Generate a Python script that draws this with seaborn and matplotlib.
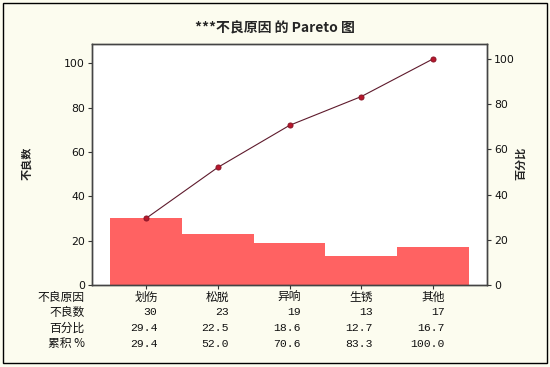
import matplotlib
matplotlib.use('Agg')
import matplotlib.pyplot as plt
import pandas as pd
import seaborn as sns
from matplotlib.patches import Rectangle

# data
causes = ['划伤', '松脱', '异响', '生锈', '其他']
counts = [30, 23, 19, 13, 17]
percents = [29.4, 22.5, 18.6, 12.7, 16.7]
cum_percents = [29.4, 52.0, 70.6, 83.3, 100.0]
row_labels = ['不良原因', '不良数', '百分比', '累积 %']

sns.set_theme(style='white')
plt.rcParams['font.family'] = ['Noto Sans CJK SC', 'DejaVu Sans']
mono = ['Liberation Mono', 'Noto Sans CJK SC']

df = pd.DataFrame({'cause': causes, 'count': counts})
df['cum'] = df['count'].cumsum()
total = df['count'].sum()

fig = plt.figure(figsize=(5.5, 3.67), dpi=100, facecolor='#fcfcef')
ax = fig.add_axes([92 / 550, 82 / 367, 395 / 550, 241 / 367])
ax.set_facecolor('white')

sns.barplot(data=df, x='cause', y='count', order=causes, color='#ff6262',
            saturation=1, width=1.0, linewidth=0, ax=ax)
sns.lineplot(data=df, x='cause', y='cum', ax=ax, sort=False, color='#5e1a2c',
             lw=0.8, marker='o', markersize=3.6, markerfacecolor='#b8162c',
             markeredgecolor='#8c1628')

ymax = 108.7
ax.set_xlim(-0.75, 4.75)
ax.set_ylim(0, ymax)
ax.set_yticks(range(0, 101, 20))
ax.set_xticks(range(len(causes)))
ax.set_xticklabels([])
ax.set_xlabel('')
ax.set_ylabel('')

ax2 = ax.twinx()
ax2.set_ylim(0, ymax / total * 100)
ax2.set_yticks(range(0, 101, 20))

for a in (ax, ax2):
    a.tick_params(direction='out', length=3, width=0.8, color='#333333',
                  labelsize=7.8, pad=2, labelcolor='#111111')
    for s in a.spines.values():
        s.set_color('#444444')
        s.set_linewidth(1)
ax.tick_params(left=True, bottom=True)
ax2.tick_params(right=True)
for lab in ax.get_yticklabels() + ax2.get_yticklabels():
    lab.set_family('DejaVu Sans')

# title and axis labels
fig.text(0.5, 1 - 28 / 367, '***不良原因 的 Pareto 图', ha='center', va='center',
         fontsize=10, fontweight='bold')
fig.text(27 / 550, 1 - 163 / 367, '不良数', rotation=90, ha='center', va='center',
         fontsize=8, fontweight='bold')
fig.text(521 / 550, 1 - 163 / 367, '百分比', rotation=90, ha='center', va='center',
         fontsize=8, fontweight='bold')

# table under the axis
row_y = [(285 - p) / 241 for p in (297, 312, 328, 344)]
trans = ax.get_xaxis_transform()
for r, lab in enumerate(row_labels):
    ax.text(-0.018, row_y[r], lab, transform=ax.transAxes, ha='right',
            va='center', fontsize=8.5, color='#111111')
for i, c in enumerate(causes):
    ax.text(i, row_y[0], c, transform=trans, ha='center', va='center',
            fontsize=8.5, color='#111111')
    vals = [str(counts[i]), f'{percents[i]:.1f}', f'{cum_percents[i]:.1f}']
    for r, v in enumerate(vals, start=1):
        ax.text(i + 0.16, row_y[r], v, transform=trans, ha='right',
                va='center', fontsize=8.2, family=mono, color='#111111')

fig.patches.append(Rectangle((0.006, 0.012), 0.988, 0.98, transform=fig.transFigure,
                             fill=False, ec='black', lw=1.0))

fig.savefig('out.png', dpi=100, facecolor=fig.get_facecolor())
plt.close()
